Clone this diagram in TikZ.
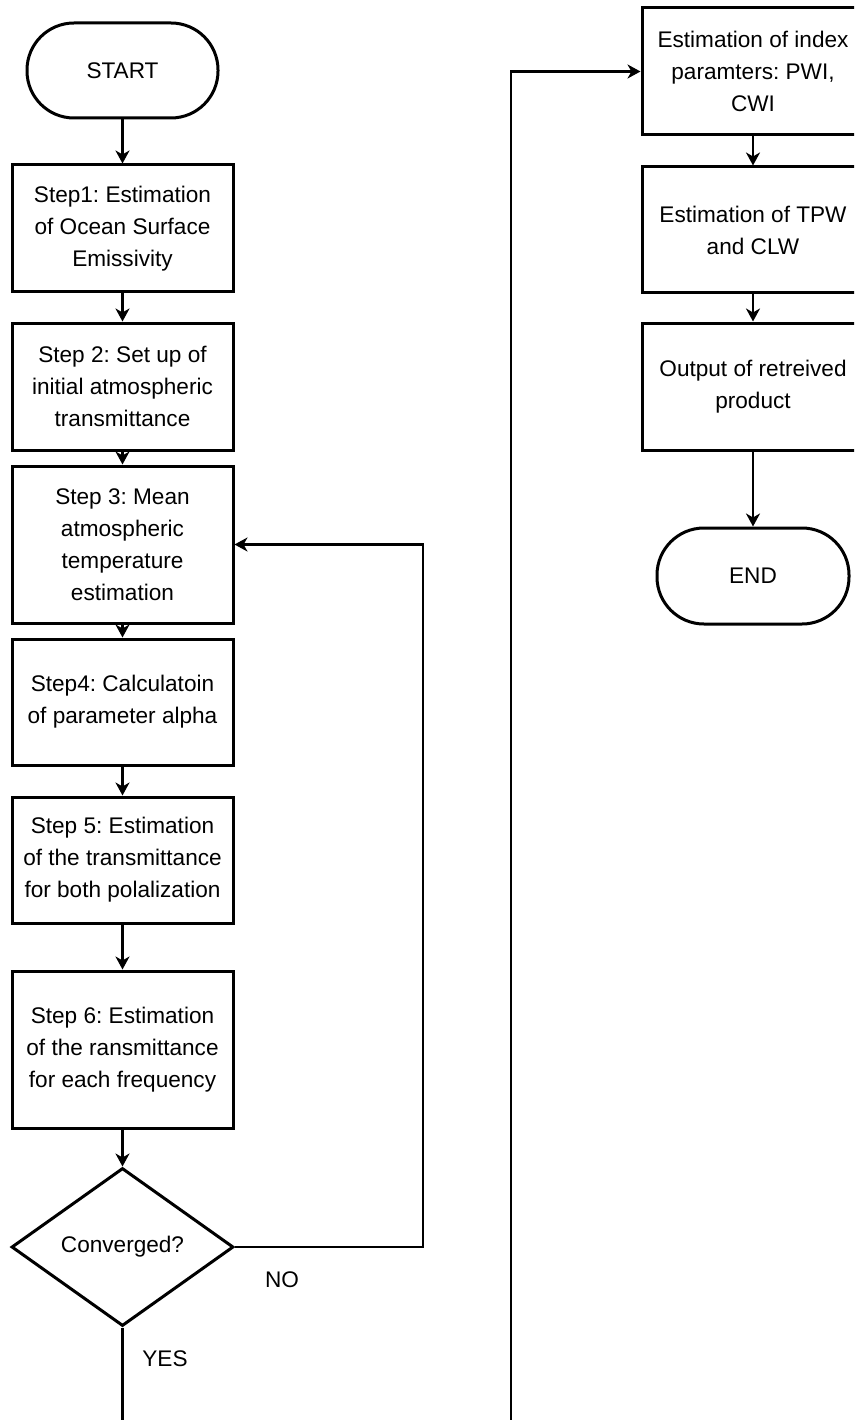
\documentclass[tikz,border=0pt]{standalone}
\usepackage{fontspec}
\setmainfont{Liberation Sans}
\usetikzlibrary{shapes.geometric,arrows.meta}
\frenchspacing
\begin{document}
\begin{tikzpicture}[x=1pt,y=1pt,
  txt/.style={font=\fontsize{22.6}{32}\selectfont},
  box/.style={txt,draw,line width=3pt,minimum width=221pt,align=center,inner sep=0pt},
  term/.style={txt,draw,line width=3pt,rounded corners=47pt,inner sep=0pt,minimum width=191pt,minimum height=95pt},
  dec/.style={txt,draw,line width=3pt,diamond,aspect=1.4,inner sep=0pt,minimum width=222pt,minimum height=158pt},
  arr/.style={line width=2.8pt,-{Stealth[length=13pt,width=14pt,inset=4pt]}},
  ln/.style={line width=2.8pt}
]
\useasboundingbox (0,0) rectangle (854,-1420);
\clip (0,0) rectangle (854,-1420);
\fill[white] (0,0) rectangle (854,-1420);

\node[term] (start) at (122.5,-70.5) {START};
\node[box,minimum height=127pt] (s1) at (122.5,-228.5) {Step1: Estimation\\of Ocean Surface\\Emissivity};
\node[box,minimum height=127pt] (s2) at (122.5,-386.5) {Step 2: Set up of\\initial atmospheric\\transmittance};
\node[box,minimum height=157pt] (s3) at (122.5,-544.5) {Step 3: Mean\\atmospheric\\temperature\\estimation};
\node[box,minimum height=126pt] (s4) at (122.5,-702) {Step4: Calculatoin\\of parameter alpha};
\node[box,minimum height=126pt] (s5) at (122.5,-860) {Step 5: Estimation\\of the transmittance\\for both polalization};
\node[box,minimum height=157pt] (s6) at (122.5,-1049.5) {Step 6: Estimation\\of the ransmittance\\for each frequency};
\node[dec] (dia) at (122.5,-1247) {Converged?};
\node[txt] (no) at (282,-1280) {NO};
\node[txt] (yes) at (165,-1359) {YES};

\node[box,minimum width=222pt,minimum height=127pt] (r1) at (753,-71.5) {Estimation of index\\paramters: PWI,\\CWI};
\node[box,minimum width=222pt,minimum height=126pt] (r2) at (753,-230) {Estimation of TPW\\and CLW};
\node[box,minimum width=222pt,minimum height=127pt] (r3) at (753,-386.5) {Output of retreived\\product};
\node[term,minimum width=192pt,minimum height=96pt] (end) at (753,-576) {END};

\draw[arr] (start) -- (s1);
\draw[arr] (s1) -- (s2);
\draw[arr] (s2) -- (s3);
\draw[arr] (s3) -- (s4);
\draw[arr] (s4) -- (s5);
\draw[arr] (s5) -- (s6);
\draw[arr] (s6) -- (dia);
\coordinate (fb) at (423,-1247);
\draw[arr] (dia.east) -- (fb) |- (s3.east);
\coordinate (b1) at (122.5,-1450);
\coordinate (b2) at (511,-1450);
\draw[arr] (dia.south) -- (b1) -- (b2) |- (r1.west);
\draw[arr] (r1) -- (r2);
\draw[arr] (r2) -- (r3);
\draw[arr] (r3) -- (end);
\end{tikzpicture}
\end{document}
